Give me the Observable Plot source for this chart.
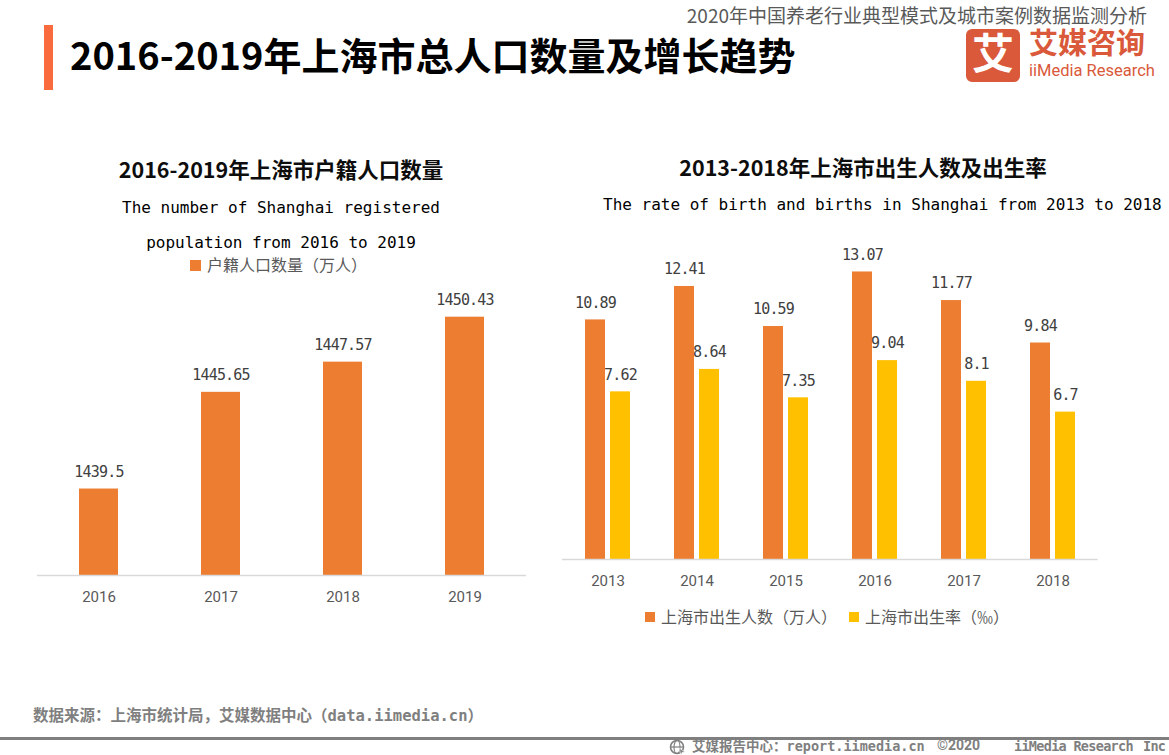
<!DOCTYPE html>
<html><head><meta charset="utf-8">
<script src="https://cdn.jsdelivr.net/npm/d3@7"></script>
<script src="https://cdn.jsdelivr.net/npm/@observablehq/plot@0.6"></script>
<style>
body{margin:0;background:#fff;}
#page{position:relative;width:1169px;height:755px;overflow:hidden;font-family:"Noto Sans CJK SC",sans-serif;background:#fff;}
.t{position:absolute;white-space:pre;line-height:1;}
.mono{font-family:"DejaVu Sans Mono","Noto Sans CJK SC",monospace;}
.chart{position:absolute;}
</style></head><body><div id="page"></div>
<script>
// ---- data ----
const popYears = ["2016", "2017", "2018", "2019"];
const popValues = [1439.5, 1445.65, 1447.57, 1450.43];
const birthYears = ["2013", "2014", "2015", "2016", "2017", "2018"];
const births = [10.89, 12.41, 10.59, 13.07, 11.77, 9.84];
const birthRates = [7.62, 8.64, 7.35, 9.04, 8.1, 6.7];

const mainTitle = "2016-2019年上海市总人口数量及增长趋势";
const reportTitle = "2020年中国养老行业典型模式及城市案例数据监测分析";
const leftTitle = "2016-2019年上海市户籍人口数量";
const leftSub1 = "The number of Shanghai registered";
const leftSub2 = "population from 2016 to 2019";
const leftLegend = "户籍人口数量（万人）";
const rightTitle = "2013-2018年上海市出生人数及出生率";
const rightSub = "The rate of birth and births in Shanghai from 2013 to 2018";
const rightLegend1 = "上海市出生人数（万人）";
const rightLegend2 = "上海市出生率（‰）";
const sourceText = "数据来源：上海市统计局，艾媒数据中心（data.iimedia.cn）";

const ORANGE = "#ED7D31", YELLOW = "#FFC000";

const page = document.getElementById("page");
function addText(txt, opts) {
  const d = document.createElement("div");
  d.className = "t" + (opts.mono ? " mono" : "");
  d.textContent = txt;
  const s = d.style;
  s.fontSize = opts.size + "px";
  s.top = (opts.cy - (opts.mono ? 0.5 : 0.556) * opts.size) + "px";
  if (opts.center != null) { s.left = (opts.center - 400) + "px"; s.width = "800px"; s.textAlign = "center"; }
  else if (opts.right != null) { s.right = (1169 - opts.right) + "px"; }
  else s.left = opts.left + "px";
  if (opts.weight) s.fontWeight = opts.weight;
  s.color = opts.color || "#000";
  if (opts.family) s.fontFamily = opts.family;
  if (opts.ls != null) s.letterSpacing = opts.ls + "px";
  if (opts.lh != null) s.lineHeight = opts.lh;
  page.appendChild(d);
  return d;
}
function addBox(x, y, w, h, color, extra) {
  const d = document.createElement("div");
  d.style.cssText = `position:absolute;left:${x}px;top:${y}px;width:${w}px;height:${h}px;background:${color};` + (extra || "");
  page.appendChild(d);
  return d;
}

// header
addBox(44, 25, 9, 65, "#F96B3C");
addText(mainTitle, {left: 70, cy: 56, size: 38, weight: 700, color: "#000"});
addText(reportTitle, {right: 1147, cy: 17, size: 19, color: "#595959", lh: 0.9});
addBox(966, 29, 54, 53, "#D9593A", "border-radius:6px;");
addText("艾", {left: 972, cy: 57, size: 42, weight: 700, color: "#fff", lh: 0.8});
addText("艾媒咨询", {left: 1029, cy: 46, size: 29, weight: 700, color: "#D9593A", lh: 0.8});
addText("iiMedia Research", {left: 1029, cy: 73, size: 16.5, color: "#D9593A", family: "Roboto", lh: 0.8});

// panel titles
addText(leftTitle, {center: 281, cy: 170, size: 21.5, weight: 700, color: "#0d0d0d"});
addText(leftSub1, {center: 281, cy: 208, size: 16, mono: true});
addText(leftSub2, {center: 281, cy: 243, size: 16, mono: true});
addBox(190, 260, 11, 11, ORANGE);
addText(leftLegend, {left: 207, cy: 265, size: 16, color: "#595959"});

addText(rightTitle, {center: 863, cy: 168, size: 21.5, weight: 700, color: "#0d0d0d"});
addText(rightSub, {left: 603, cy: 205, size: 16, mono: true});
addBox(645, 612, 10, 10, ORANGE);
addText(rightLegend1, {left: 661, cy: 617, size: 16, color: "#595959"});
addBox(849, 612, 10, 10, YELLOW);
addText(rightLegend2, {left: 865, cy: 617, size: 16, color: "#595959"});

// footer
addText(sourceText, {left: 33, cy: 717, size: 15.5, weight: 700, color: "#7F7F7F", mono: true});
addBox(0, 737, 1169, 3, "#7F7F7F");
const icon = document.createElementNS("http://www.w3.org/2000/svg", "svg");
icon.setAttribute("width", 18); icon.setAttribute("height", 16);
icon.style.cssText = "position:absolute;left:669px;top:739px;";
icon.innerHTML = '<circle cx="8" cy="8" r="6.5" fill="none" stroke="#7F7F7F" stroke-width="1.6"/><ellipse cx="8" cy="8" rx="3" ry="6.5" fill="none" stroke="#7F7F7F" stroke-width="1.2"/><line x1="1.5" y1="8" x2="14.5" y2="8" stroke="#7F7F7F" stroke-width="1.2"/><path d="M10 9 L16 13 L13 13.5 L12 16 Z" fill="#7F7F7F" stroke="#fff" stroke-width="0.6"/>';
page.appendChild(icon);
addText("艾媒报告中心：report.iimedia.cn", {left: 692, cy: 747, size: 13.5, weight: 700, color: "#7F7F7F", mono: true, lh: 0.9});
addText("©2020", {left: 937, cy: 747, size: 14, weight: 700, color: "#7F7F7F", family: "Roboto", lh: 0.9});
addText("iiMedia Research", {left: 1014, cy: 747, size: 13.5, weight: 700, color: "#7F7F7F", mono: true, ls: -0.7, lh: 0.9});
addText("Inc", {left: 1143, cy: 747, size: 13.5, weight: 700, color: "#7F7F7F", mono: true, ls: -0.7, lh: 0.9});

// ---- left chart ----
const popRows = popYears.map((year, i) => ({year, value: popValues[i]}));
const left = Plot.plot({
  width: 560, height: 340,
  marginLeft: 37, marginRight: 34, marginTop: 12, marginBottom: 45,
  style: {fontFamily: "Roboto", fontSize: "15px", color: "#595959", background: "transparent"},
  x: {domain: popYears, paddingInner: 0.68, paddingOuter: 0.34, tickSize: 0, tickPadding: 16, label: null},
  y: {domain: [1434, 1452], axis: null},
  marks: [
    Plot.barY(popRows, {x: "year", y1: 1434, y2: "value", fill: ORANGE}),
    Plot.ruleY([1434], {stroke: "#D9D9D9", strokeWidth: 1.5}),
    Plot.text(popRows, {x: "year", y: "value", text: d => String(d.value), dy: -17, fill: "#404040", fontFamily: "DejaVu Sans Mono", fontSize: 15})
  ]
});
left.classList.add("chart");
left.style.left = "0px"; left.style.top = "280px";
page.appendChild(left);

// ---- right chart ----
const birthRows = birthYears.map((year, i) => ({year, births: births[i], rate: birthRates[i]}));
const right = Plot.plot({
  width: 600, height: 400,
  marginLeft: 22, marginRight: 42.4, marginTop: 7, marginBottom: 41,
  style: {fontFamily: "Roboto", fontSize: "15px", color: "#595959", background: "transparent"},
  x: {domain: birthYears, paddingInner: 0.496, paddingOuter: 0.248, tickSize: 0, tickPadding: 16, label: null},
  y: {domain: [0, 16], axis: null},
  marks: [
    Plot.barY(birthRows, {x: "year", y: "births", fill: ORANGE, insetRight: 25}),
    Plot.barY(birthRows, {x: "year", y: "rate", fill: YELLOW, insetLeft: 25}),
    Plot.ruleY([0], {stroke: "#D9D9D9", strokeWidth: 1.5}),
    Plot.text(birthRows, {x: "year", y: "births", text: d => String(d.births), dx: -12.5, dy: -17, fill: "#404040", fontFamily: "DejaVu Sans Mono", fontSize: 15}),
    Plot.text(birthRows, {x: "year", y: "rate", text: d => String(d.rate), dx: 12.5, dy: -17, fill: "#404040", fontFamily: "DejaVu Sans Mono", fontSize: 15})
  ]
});
right.classList.add("chart");
right.style.left = "540px"; right.style.top = "200px";
page.appendChild(right);

for (const svg of [left, right]) {
  svg.querySelectorAll('g[aria-label="text"] text').forEach(t => t.style.letterSpacing = "-0.8px");
}
</script></body></html>
